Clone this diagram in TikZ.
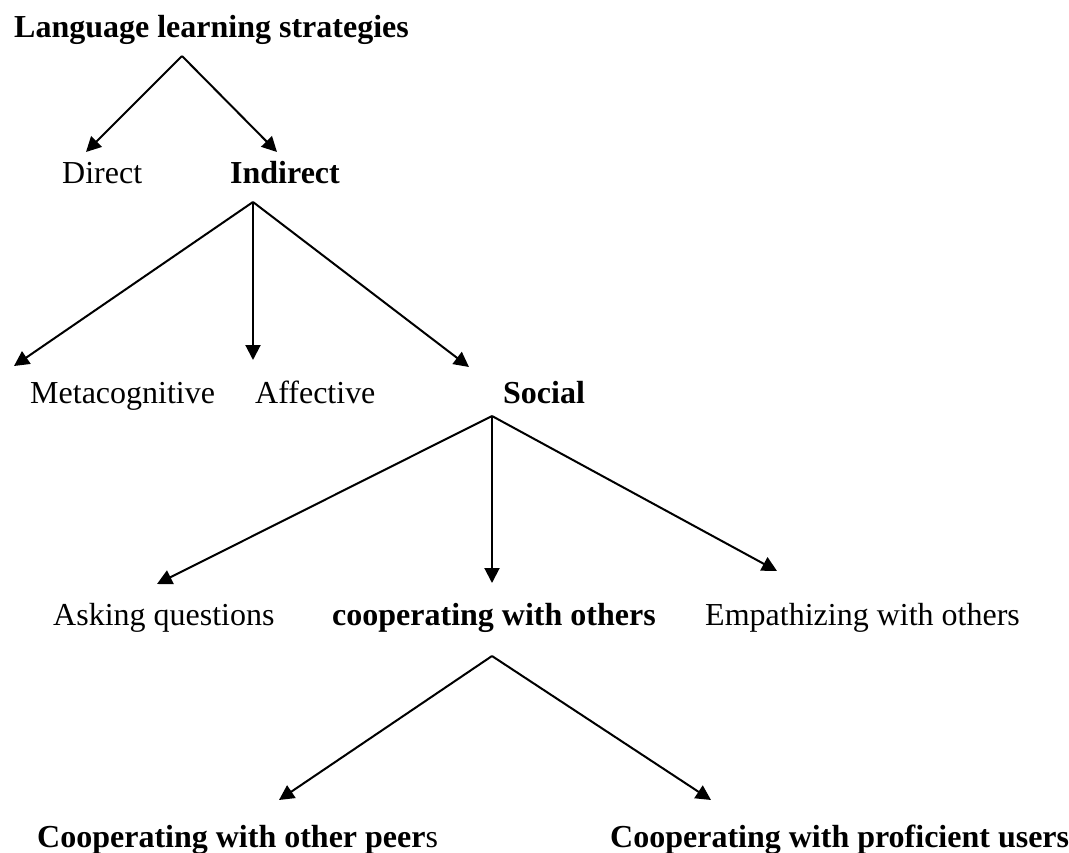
\documentclass[tikz,border=0pt]{standalone}
\usepackage{fontspec}
\setmainfont{Liberation Serif}
\usetikzlibrary{arrows.meta, positioning}
\tikzstyle{term}=[inner sep=0pt, anchor=base west, font=\fontsize{32}{38}\selectfont]
\tikzstyle{key}=[term, font=\fontsize{32}{38}\selectfont\bfseries]
\tikzstyle{branch}=[->, line width=2pt]

\begin{document}
\begin{tikzpicture}[x=1pt, y=-1pt, >={Triangle[length=15pt, width=15pt]}]
    \useasboundingbox (0,0) rectangle (1069,852);

    % the strategy terms
    \node[key]  (lls)       at (14,37)   {Language learning strategies};
    \node[term] (direct)    at (62,183)  {Direct};
    \node[key]  (indirect)  at (230,183) {Indirect};
    \node[term] (meta)      at (30,403)  {Metacognitive};
    \node[term] (affective) at (255,403) {Affective};
    \node[key]  (social)    at (503,403) {Social};
    \node[term] (asking)    at (53,625)  {Asking questions};
    \node[key]  (coop)      at (332,625) {cooperating with others};
    \node[term] (empath)    at (705,625) {Empathizing with others};
    \node[key]  (peers)     at (37,847)  {Cooperating with other peer\textmd{s}};
    \node[key]  (users)     at (610,847) {Cooperating with proficient users};

    % forks under each parent, and where the arrows stop
    \coordinate (lls-fork)      at (182,56);
    \coordinate (direct-in)     at (86,152);
    \coordinate (indirect-in)   at (277,152);
    \coordinate (indirect-fork) at (253,202);
    \coordinate (meta-in)       at (14,366);
    \coordinate (affective-in)  at (253,360);
    \coordinate (social-in)     at (469,367);
    \coordinate (social-fork)   at (492,416);
    \coordinate (asking-in)     at (157,584);
    \coordinate (coop-in)       at (492,583);
    \coordinate (empath-in)     at (777,571);
    \coordinate (coop-fork)     at (492,656);
    \coordinate (peers-in)      at (279,800);
    \coordinate (users-in)      at (711,800);

    \draw[branch] (lls-fork) -- (direct-in);
    \draw[branch] (lls-fork) -- (indirect-in);

    \draw[branch] (indirect-fork) -- (meta-in);
    \draw[branch] (indirect-fork) -- (affective-in);
    \draw[branch] (indirect-fork) -- (social-in);

    \draw[branch] (social-fork) -- (asking-in);
    \draw[branch] (social-fork) -- (coop-in);
    \draw[branch] (social-fork) -- (empath-in);

    \draw[branch] (coop-fork) -- (peers-in);
    \draw[branch] (coop-fork) -- (users-in);
\end{tikzpicture}
\end{document}
